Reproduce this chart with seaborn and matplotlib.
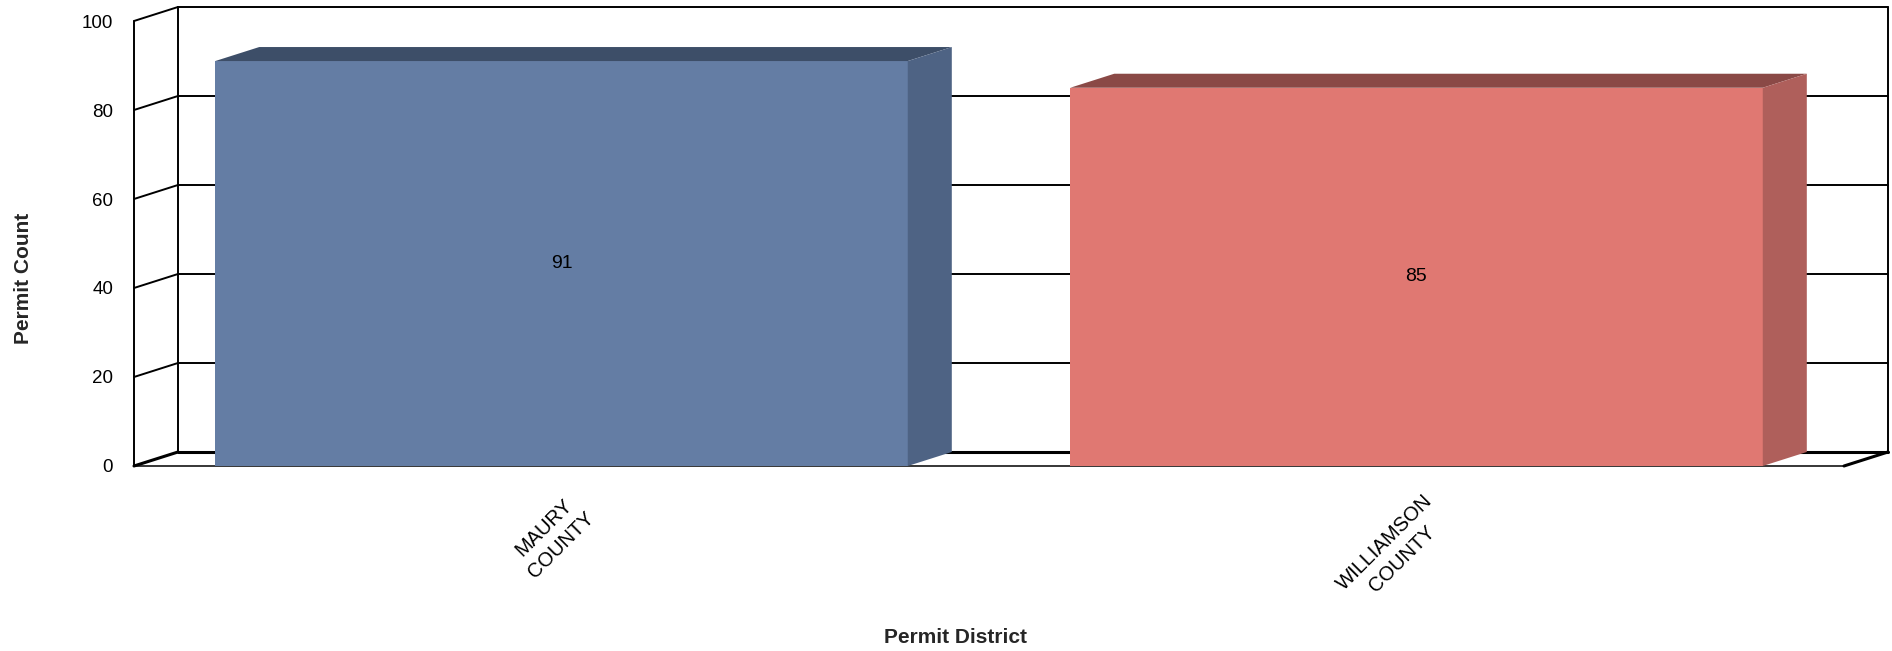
import pandas as pd
import matplotlib.pyplot as plt
import matplotlib.patches as mpatches
import matplotlib.transforms as mtransforms
import seaborn as sns

# data
districts = ["MAURY\nCOUNTY", "WILLIAMSON\nCOUNTY"]
permit_counts = [91, 85]
y_ticks = [0, 20, 40, 60, 80, 100]

# colours for the three visible faces of each bar
front_colors = ["#647DA4", "#E07872"]
top_colors = ["#3D4E68", "#8A4946"]
side_colors = ["#4E6384", "#AF5F5B"]

# depth of the fake 3d box (data units)
DX = 0.0515
DY = 3.15


def main():
    df = pd.DataFrame({"district": districts, "count": permit_counts})

    sns.set_style("white")
    plt.rcParams["font.family"] = ["Liberation Sans", "DejaVu Sans"]

    fig = plt.figure(figsize=(18.92, 6.51), dpi=100)
    ax = fig.add_axes([0.07082, 0.28418, 0.90381, 0.68356])

    sns.barplot(data=df, x="district", y="count", hue="district",
                palette=front_colors, saturation=1, width=0.81,
                legend=False, ax=ax, zorder=3, edgecolor="none", linewidth=0)

    ax.set_xlim(-0.5, 1.5)
    ax.set_ylim(0, 100)
    for s in ax.spines.values():
        s.set_visible(False)

    x_left, x_right = -0.5, 1.5
    lw = 1.4
    # back wall grid + left wall diagonals
    for t in y_ticks:
        ax.plot([x_left + DX, x_right + DX], [t + DY, t + DY], color="black",
                lw=2.2 if t == 0 else lw, clip_on=False, zorder=1)
        ax.plot([x_left, x_left + DX], [t, t + DY], color="black",
                lw=2.2 if t == 0 else lw, clip_on=False, zorder=1)
    # verticals
    ax.plot([x_left, x_left], [0, 100], color="black", lw=lw, clip_on=False, zorder=1)
    ax.plot([x_left + DX, x_left + DX], [DY, 100 + DY], color="black", lw=lw, clip_on=False, zorder=1)
    ax.plot([x_right + DX, x_right + DX], [DY, 100 + DY], color="black", lw=lw, clip_on=False, zorder=1)
    # floor
    ax.plot([x_left, x_right], [0, 0], color="black", lw=1.1, clip_on=False, zorder=2)
    ax.plot([x_right, x_right + DX], [0, DY], color="black", lw=2.2, clip_on=False, zorder=2)

    # top and side faces of the bars
    bars = sorted(ax.patches, key=lambda p: p.get_x())
    for i, p in enumerate(bars):
        x0, w, h = p.get_x(), p.get_width(), p.get_height()
        top = mpatches.Polygon([(x0, h), (x0 + w, h), (x0 + w + DX, h + DY), (x0 + DX, h + DY)],
                               closed=True, facecolor=top_colors[i], edgecolor="none",
                               clip_on=False, zorder=3)
        side = mpatches.Polygon([(x0 + w, 0), (x0 + w + DX, DY), (x0 + w + DX, h + DY), (x0 + w, h)],
                                closed=True, facecolor=side_colors[i], edgecolor="none",
                                clip_on=False, zorder=3)
        ax.add_patch(top)
        ax.add_patch(side)

    for c in ax.containers:
        ax.bar_label(c, label_type="center", fontsize=14, color="black")

    ax.set_yticks(y_ticks)
    ax.tick_params(axis="y", length=0, pad=15, labelsize=13.5, colors="black")
    ax.set_xticks(range(len(districts)))
    ax.set_xticklabels(districts, rotation=45, ha="right", va="top",
                       rotation_mode="anchor", multialignment="center",
                       fontsize=14.5, linespacing=1.35)
    ax.tick_params(axis="x", length=0, pad=18, colors="black")
    shift = mtransforms.ScaledTranslation(6 / 100, 0, fig.dpi_scale_trans)
    for lab in ax.get_xticklabels():
        lab.set_transform(lab.get_transform() + shift)

    ax.set_xlabel("Permit District", fontsize=15, fontweight="bold")
    ax.set_ylabel("Permit Count", fontsize=15, fontweight="bold")
    ax.yaxis.label.set_va("center")
    ax.xaxis.label.set_va("center")
    ax.yaxis.set_label_coords(-0.0649, 0.4225)
    ax.xaxis.set_label_coords(0.4807, -0.3865)

    plt.savefig("out.png", dpi=100)
    plt.close()


if __name__ == "__main__":
    main()
